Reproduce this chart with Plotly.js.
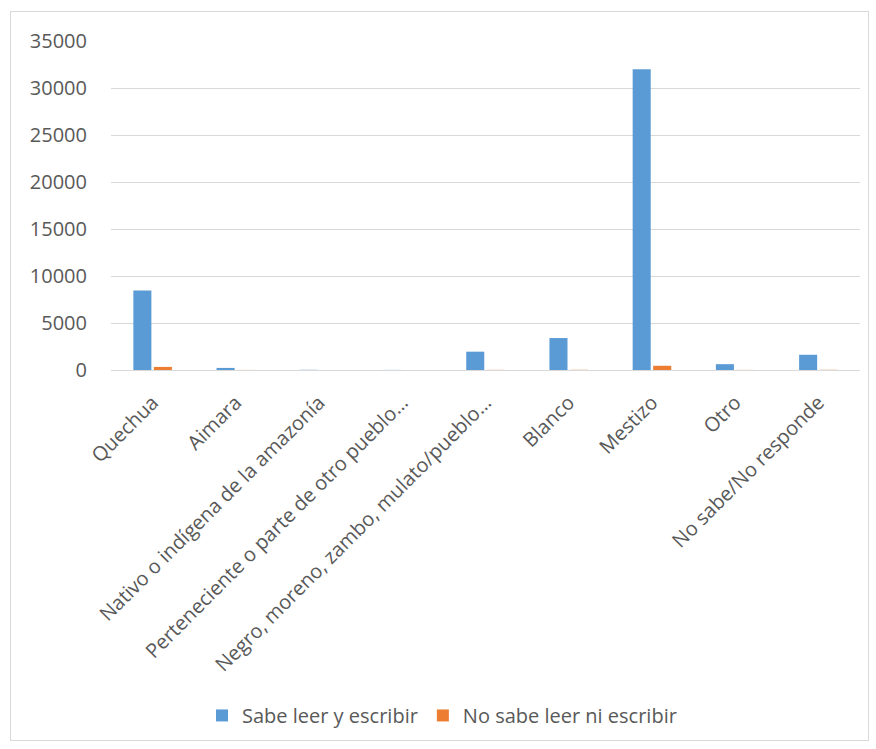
<!DOCTYPE html>
<html>
<head>
<meta charset="utf-8">
<script src="https://cdn.plot.ly/plotly-3.0.1.min.js"></script>
<style>
  html, body { margin: 0; padding: 0; background: #fff; }
  #wrap { position: relative; width: 876px; height: 749px; }
  #chart { position: absolute; left: 0; top: 0; width: 876px; height: 749px; }
  #frame { position: absolute; left: 10px; top: 11px; width: 857px; height: 728px; border: 1px solid #D9D9D9; pointer-events: none; }
</style>
</head>
<body>
<div id="wrap">
  <div id="chart"></div>
  <div id="frame"></div>
</div>
<script>
const categories = [
  "Quechua",
  "Aimara",
  "Nativo o indígena de la amazonía",
  "Perteneciente o parte de otro pueblo…",
  "Negro, moreno, zambo, mulato/pueblo…",
  "Blanco",
  "Mestizo",
  "Otro",
  "No sabe/No responde"
];
const sabeLeer = [8450, 220, 20, 10, 1950, 3400, 32000, 620, 1620];
const noSabeLeer = [330, 5, 2, 1, 15, 20, 450, 10, 20];
const seriesNames = ["Sabe leer y escribir", "No sabe leer ni escribir"];
const yTicks = [0, 5000, 10000, 15000, 20000, 25000, 30000, 35000];

const font = "'Open Sans', 'DejaVu Sans', sans-serif";
const fs = 20;
const traces = [
  { type: "bar", name: seriesNames[0], x: categories, y: sabeLeer,
    marker: { color: "#5B9BD5" }, hoverinfo: "x+y" },
  { type: "bar", name: seriesNames[1], x: categories, y: noSabeLeer,
    marker: { color: "#ED7D31" }, hoverinfo: "x+y" }
];

const layout = {
  width: 876, height: 749,
  margin: { l: 111, r: 16, t: 41, b: 379, pad: 0 },
  paper_bgcolor: "#ffffff", plot_bgcolor: "#ffffff",
  font: { family: font, size: fs, color: "#595959" },
  barmode: "group", bargap: 0.507, bargroupgap: 0.12,
  showlegend: true,
  legend: { orientation: "h", x: 0.1215, xanchor: "left", y: -1.05, yanchor: "middle",
            font: { size: fs, color: "#595959", family: font }, itemwidth: 30, traceorder: "normal" },
  xaxis: { type: "category", tickangle: -45, showgrid: false, showline: false,
           ticks: "outside", ticklen: 12, tickcolor: "rgba(0,0,0,0)",
           tickfont: { size: fs, color: "#595959", family: font }, automargin: false },
  yaxis: { range: [0, 35000], tickvals: yTicks, ticktext: yTicks.map(String),
           showgrid: true, gridcolor: "#D9D9D9", gridwidth: 1,
           zeroline: true, zerolinecolor: "#D9D9D9", zerolinewidth: 1,
           showline: false, ticks: "outside", ticklen: 19, tickcolor: "rgba(0,0,0,0)",
           tickfont: { size: fs, color: "#595959", family: font }, automargin: false }
};

Plotly.newPlot("chart", traces, layout, { displayModeBar: false, staticPlot: true });
</script>
</body>
</html>
